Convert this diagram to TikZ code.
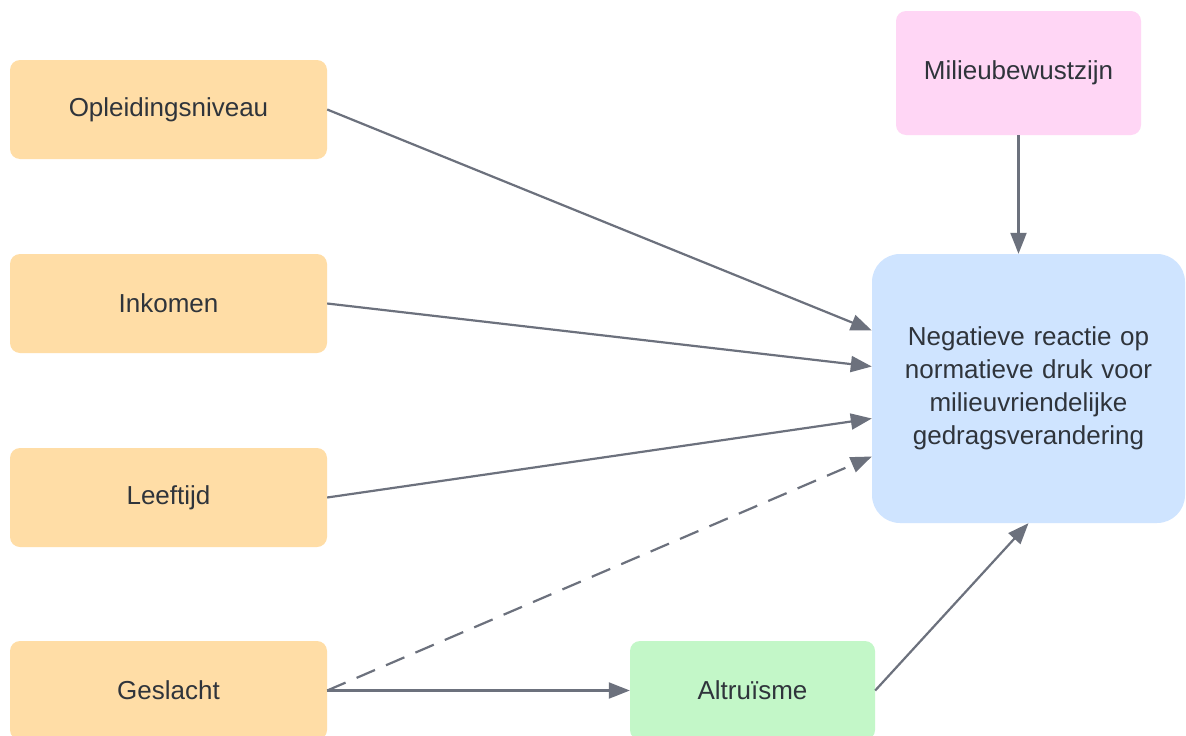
\documentclass[tikz,border=0pt]{standalone}
\usepackage{fontspec}
\setmainfont{Liberation Sans}
\usetikzlibrary{arrows.meta}
\definecolor{orangefill}{HTML}{FFDDA6}
\definecolor{bluefill}{HTML}{CFE4FF}
\definecolor{pinkfill}{HTML}{FFD6F5}
\definecolor{greenfill}{HTML}{C3F7C8}
\definecolor{arrowgray}{HTML}{6C717D}
\definecolor{textgray}{HTML}{2F343B}
\tikzset{
  box/.style={draw=none, rounded corners=10pt, inner sep=0pt, align=center,
    text=textgray, font=\fontsize{26}{33}\selectfont},
  factor/.style={box, fill=orangefill, minimum width=317pt, minimum height=99pt},
  conn/.style={draw=arrowgray, line width=2.2pt, -{Triangle[length=21pt,width=16pt]}},
  dashconn/.style={conn, dash pattern=on 20pt off 12pt},
}
\begin{document}
\begin{tikzpicture}[x=1pt,y=-1pt]
\useasboundingbox[fill=white] (0,0) rectangle (1186,736);
\node[factor] (opl) at (168.5,109.5) {Opleidingsniveau};
\node[factor] (ink) at (168.5,303.5) {Inkomen};
\node[factor] (lft) at (168.5,497.5) {Leeftijd};
\node[factor] (gsl) at (168.5,690.5) {Geslacht};
\node[box, fill=greenfill, minimum width=245pt, minimum height=99pt] (alt) at (752.5,690.5) {Altruïsme};
\node[box, fill=pinkfill, minimum width=245pt, minimum height=124pt] (mil) at (1018.5,73) {Milieubewustzijn};
\node[box, fill=bluefill, rounded corners=28pt, minimum width=313pt, minimum height=269pt, text width=300pt] (main) at (1028.5,388.5)
  {Negatieve reactie op\\normatieve druk voor\\milieuvriendelijke\\gedragsverandering};
\draw[conn] (opl.east) -- ([yshift=58pt]main.west);
\draw[conn] (ink.east) -- ([yshift=22pt]main.west);
\draw[conn] (lft.east) -- ([yshift=-30pt]main.west);
\draw[dashconn] (gsl.east) -- ([yshift=-68pt]main.west);
\draw[conn] (gsl.east) -- (alt.west);
\draw[conn] (alt.east) -- (main.south);
\draw[conn] (mil.south) -- (main.north -| mil.south);
\end{tikzpicture}
\end{document}
